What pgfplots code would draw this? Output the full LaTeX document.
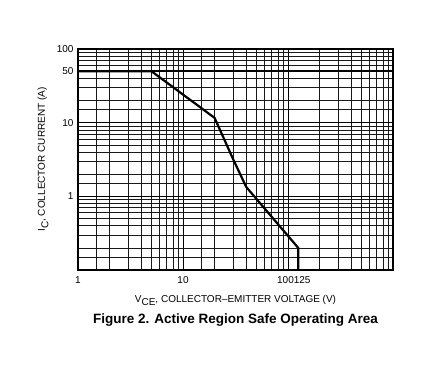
\documentclass[border=0pt]{standalone}
\usepackage{fontspec}
\setmainfont{Liberation Sans}
\newfontfamily\narrowfont{Liberation Sans}[FakeStretch=0.89]
\usepackage{pgfplots}
\pgfplotsset{compat=1.18}
\newcommand\axisfont{\narrowfont\fontsize{11.2}{13}\selectfont}
\newcommand\sub[1]{\raisebox{-0.33em}{\fontsize{10}{12}\selectfont #1}}
\begin{document}
\begin{tikzpicture}
\useasboundingbox (0,0) rectangle (436pt,364pt);
\begin{axis}[
  at={(78pt,94pt)}, anchor=south west,
  scale only axis, width=315pt, height=221pt,
  xmode=log, ymode=log,
  xmin=1, xmax=1000, ymin=0.1, ymax=100,
  xtick={1,10,100}, xticklabels={1,10,{}},
  extra x ticks={125}, extra x tick labels={\llap{100}125},
  extra x tick style={grid=none, xticklabel style={xshift=4pt}},
  ytick={1,10,100}, yticklabels={1,10,100},
  extra y ticks={50}, extra y tick labels={50},
  extra y tick style={grid=major, major grid style={black, line width=1.4pt}},
  minor xtick={1.5,2,3,4,5,6,7,8,9,15,20,30,40,50,60,70,80,90,200,300,400,500,600,700,800,900},
  minor ytick={0.15,0.2,0.3,0.4,0.5,0.6,0.7,0.8,0.9,1.5,2,3,4,5,6,7,8,9,15,20,30,40,60,70,80,90},
  grid=both,
  major grid style={black, line width=0.9pt},
  minor grid style={black!90, line width=0.6pt},
  axis line style={line width=1.5pt},
  major tick length=0pt, minor tick length=0pt,
  tick label style={font=\fontsize{10}{12}\selectfont},
  xticklabel style={yshift=-3pt},
  yticklabel style={xshift=-1pt},
  xlabel={V\sub{CE}, COLLECTOR--EMITTER VOLTAGE (V)},
  ylabel={I\sub{C}, COLLECTOR CURRENT (A)},
  label style={font=\axisfont},
  every axis x label/.style={at={(axis description cs:0.5,-0.145)}, anchor=base},
  every axis y label/.style={at={(axis description cs:-0.1048,0.5)}, rotate=90, anchor=base},
  title={Figure 2. Active Region Safe Operating Area},
  title style={at={(axis description cs:0.5,-0.2683)}, anchor=base, font=\bfseries\fontsize{13.5}{16}\selectfont},
  clip=false,
]
\addplot[black, line width=2.2pt] coordinates {
  (1,50) (5,50) (20,11.6) (30,3.2) (40,1.34) (125,0.2) (125,0.1)
};
\end{axis}
\end{tikzpicture}
\end{document}
